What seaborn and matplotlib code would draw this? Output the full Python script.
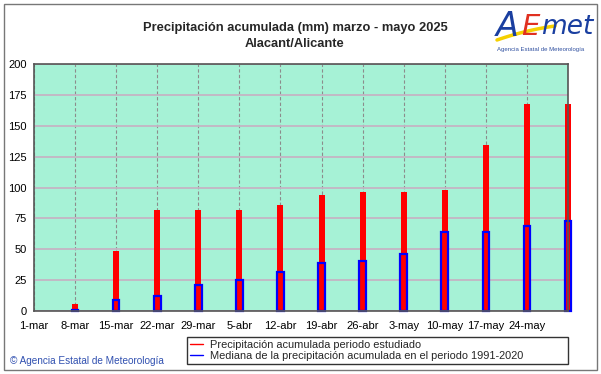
import numpy as np
import pandas as pd
import matplotlib.pyplot as plt
import seaborn as sns
from matplotlib.lines import Line2D
from matplotlib.patches import Rectangle

# Tick labels on the x axis (one per week)
tick_labels = ["1-mar", "8-mar", "15-mar", "22-mar", "29-mar", "5-abr", "12-abr",
               "19-abr", "26-abr", "3-may", "10-may", "17-may", "24-may"]

# Dates of the bars (end of each week)
bar_dates = ["8-mar", "15-mar", "22-mar", "29-mar", "5-abr", "12-abr", "19-abr",
             "26-abr", "3-may", "10-may", "17-may", "24-may", "31-may"]

# Accumulated precipitation 2025 (mm)
precip_2025 = [5.4, 48.6, 82.1, 82.1, 82.1, 85.8, 93.7, 96.4, 96.4, 97.7, 134.2, 167.4, 167.4]

# Median accumulated precipitation 1991-2020 (mm)
median_1991_2020 = [1.1, 9.2, 11.9, 21.4, 25.4, 31.6, 38.9, 40.8, 46.5, 64.0, 64.0, 68.8, 72.6]

df = pd.DataFrame({
    'fecha': bar_dates,
    'dia': np.arange(1, len(bar_dates) + 1) * 7,
    'acumulada': precip_2025,
    'mediana': median_1991_2020,
})

sns.set_theme(style="white")
plt.rcParams['font.family'] = ['Liberation Sans', 'DejaVu Sans']

W, H = 601, 374
fig = plt.figure(figsize=(W / 100, H / 100), dpi=100)
ax = fig.add_axes([34 / W, 63 / H, 534 / W, 247 / H])
ax.set_facecolor('#a6f2d6')
ax.set_axisbelow(True)

# Bars: red = this period, blue outline = median
sns.barplot(data=df, x='dia', y='acumulada', native_scale=True, width=0.146,
            color='#ff0000', saturation=1, errorbar=None, linewidth=0, ax=ax)
sns.barplot(data=df, x='dia', y='mediana', native_scale=True, width=0.16,
            color='#0000ff', saturation=1, fill=False, errorbar=None,
            linewidth=1.6, ax=ax)
for p in ax.patches:
    p.set_clip_on(False)

ax.set_xlim(0, 91)
ax.set_ylim(0, 200)
ax.set_xticks(np.arange(len(tick_labels)) * 7)
ax.set_xticklabels(tick_labels)
ax.set_yticks(np.arange(0, 201, 25))
ax.set_xlabel('')
ax.set_ylabel('')

ax.yaxis.grid(True, color='#c4b4c4', linewidth=1.3)
ax.xaxis.grid(True, color='#8c8c8c', linewidth=0.8, linestyle=(0, (3, 2)))
ax.tick_params(axis='both', length=0, labelsize=8, colors='black')
ax.tick_params(axis='x', pad=7)
ax.tick_params(axis='y', pad=5)
for s in ax.spines.values():
    s.set_color('#555555')
    s.set_linewidth(1.2)
    s.set_visible(True)

# Title
fig.text(295 / W, 1 - 28 / H, "Precipitación acumulada (mm) marzo - mayo 2025",
         ha='center', va='center', fontsize=9.3, fontweight='bold')
fig.text(295 / W, 1 - 44 / H, "Alacant/Alicante",
         ha='center', va='center', fontsize=9.3, fontweight='bold')

# Legend
handles = [Line2D([], [], color='#ff0000', lw=1),
           Line2D([], [], color='#0000ff', lw=1)]
labels = ["Precipitación acumulada periodo estudiado",
          "Mediana de la precipitación acumulada en el periodo 1991-2020"]
leg = fig.legend(handles, labels, loc='upper left',
                 bbox_to_anchor=(187 / W, 1 - 364 / H, 381 / W, 27 / H),
                 mode='expand', fontsize=7.9, handlelength=1.2, handletextpad=0.6,
                 labelspacing=0.05, borderpad=0.3, borderaxespad=0,
                 frameon=True, fancybox=False, edgecolor='black')
leg.get_frame().set_linewidth(1)

# Copyright
fig.text(10 / W, 1 - 361 / H, "© Agencia Estatal de Meteorología",
         ha='left', va='center', fontsize=7.2, color='#3050b0')

# AEMET logo (approximation)
t = np.linspace(0, 1, 20)
sx = (497 + 58 * t) / W
sy = 1 - (40 - 20 * t + 6 * t * t) / H
fig.add_artist(Line2D(sx, sy, color='#f5d000', lw=2.5, transform=fig.transFigure))
fig.text(507 / W, 1 - 26 / H, "A", fontsize=24, color='#1a3fa0', style='italic',
         ha='center', va='center', family='DejaVu Sans', fontweight='light')
fig.text(530 / W, 1 - 27 / H, "E", fontsize=21, color='#e03020', style='italic',
         ha='center', va='center', family='DejaVu Sans')
fig.text(567 / W, 1 - 27 / H, "met", fontsize=19, color='#1a3fa0', style='italic',
         ha='center', va='center', family='DejaVu Sans')
fig.text(541 / W, 1 - 49 / H, "Agencia Estatal de Meteorología", fontsize=4.3,
         color='#3050a0', ha='center', va='center')

# Outer border
fig.add_artist(Rectangle((4 / W, 4 / H), 593 / W, 366 / H, transform=fig.transFigure,
                         fill=False, edgecolor='#777777', linewidth=1))

fig.savefig('out.png', dpi=100)
plt.close(fig)
